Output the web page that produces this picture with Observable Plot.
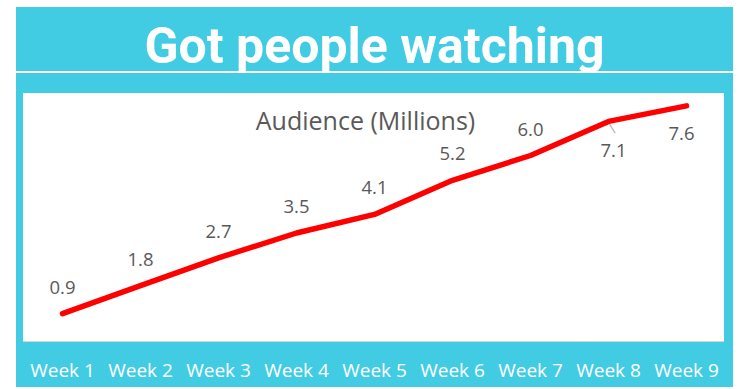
<!DOCTYPE html>
<html>
<head>
<meta charset="utf-8">
<script src="https://cdn.jsdelivr.net/npm/d3@7"></script>
<script src="https://cdn.jsdelivr.net/npm/@observablehq/plot@0.6"></script>
<style>
  html, body { margin: 0; padding: 0; background: #ffffff; }
  #wrap { position: relative; width: 740px; height: 389px; overflow: hidden; background: #ffffff; }
  #band { position: absolute; left: 16px; top: 7px; width: 717px; height: 380px; background: #42CCE4; }
  #sep { position: absolute; left: 16px; top: 71px; width: 717px; height: 2px; background: #ffffff; }
  #panel { position: absolute; left: 23px; top: 93px; width: 701px; height: 248px; background: #ffffff; border-bottom: 1px solid #d6d6d6; }
  #title { position: absolute; left: 16px; top: 21px; width: 717px; text-align: center;
           font-family: Roboto, sans-serif; font-weight: 700; font-size: 50px; line-height: 50px; color: #ffffff; }
  #chart { position: absolute; left: 0; top: 0; }
</style>
</head>
<body>
<div id="wrap">
  <div id="band"></div>
  <div id="sep"></div>
  <div id="panel"></div>
  <div id="title">Got people watching</div>
  <div id="chart"></div>
</div>
<script>
const weeks = ["Week 1", "Week 2", "Week 3", "Week 4", "Week 5", "Week 6", "Week 7", "Week 8", "Week 9"];
const audience = [0.9, 1.8, 2.7, 3.5, 4.1, 5.2, 6.0, 7.1, 7.6];
const seriesName = "Audience (Millions)";

const data = weeks.map((w, i) => ({week: w, value: audience[i], label: audience[i].toFixed(1)}));
const above = data.slice(0, 7);
const belowA = data.slice(7, 8);
const belowB = data.slice(8, 9);

const leader = {
  draw(context, l) { context.moveTo(0, 0); context.lineTo(0, -l); }
};

const chart = Plot.plot({
  width: 740,
  height: 389,
  marginLeft: 62,
  marginRight: 54,
  marginTop: 93,
  marginBottom: 48,
  style: {background: "transparent", fontFamily: "'Open Sans', sans-serif", fontSize: "19px"},
  x: {domain: weeks, type: "point", padding: 0},
  y: {domain: [0, 8], axis: null},
  marks: [
    Plot.axisX({tickSize: 0, tickPadding: 22, color: "#ffffff", fontSize: 19, label: null}),
    Plot.text([seriesName], {frameAnchor: "top", lineAnchor: "top", dy: 19, dx: -9, fontSize: 25, fill: "#595959"}),
    Plot.vector(belowA, {x: "week", y: "value", rotate: 148, length: 12, anchor: "start", shape: leader, dy: 1, stroke: "#bfbfbf", strokeWidth: 1.5}),
    Plot.line(data, {x: "week", y: "value", stroke: "#ff0000", strokeWidth: 5.5, strokeLinecap: "round", strokeLinejoin: "round"}),
    Plot.text(above, {x: "week", y: "value", text: "label", lineAnchor: "bottom", dy: -20, fontSize: 18.5, fill: "#595959"}),
    Plot.text(belowA, {x: "week", y: "value", text: "label", lineAnchor: "top", dy: 22, dx: 5, fontSize: 18.5, fill: "#595959"}),
    Plot.text(belowB, {x: "week", y: "value", text: "label", lineAnchor: "top", dy: 21, dx: -5, fontSize: 18.5, fill: "#595959"})
  ]
});
document.getElementById("chart").appendChild(chart);
</script>
</body>
</html>
